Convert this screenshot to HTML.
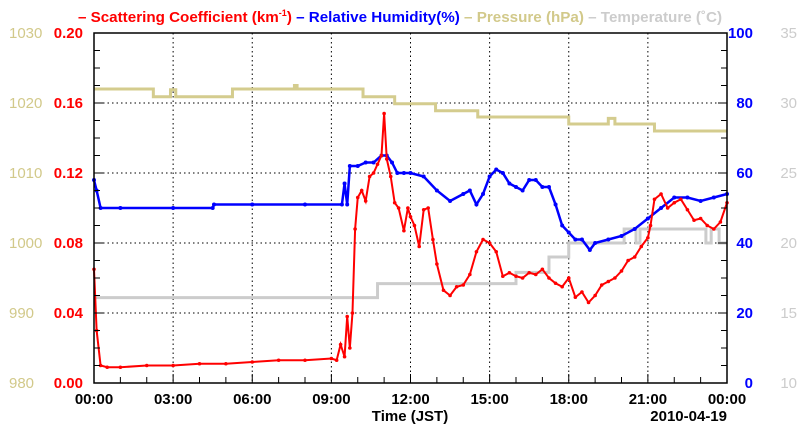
<!DOCTYPE html>
<html><head><meta charset="utf-8"><style>
body{margin:0;background:#fff;}
svg{display:block;font-family:"Liberation Sans",sans-serif;}
</style></head><body>
<svg id="chart" width="800" height="434" viewBox="0 0 800 434" xmlns="http://www.w3.org/2000/svg">
<text x="400" y="22" text-anchor="middle" font-size="15.2" font-weight="bold"><tspan fill="#ff0000">– Scattering Coefficient (km<tspan font-size="9" dy="-6">-1</tspan><tspan dy="6">) </tspan></tspan><tspan fill="#0000ff">– Relative Humidity(%) </tspan><tspan fill="#d2c98a">– Pressure (hPa) </tspan><tspan fill="#cccccc">– Temperature (˚C)</tspan></text>
<g id="grid"></g>
<g id="series"></g>
<g id="axes"></g>
<text x="410" y="421" text-anchor="middle" font-size="15" font-weight="bold">Time (JST)</text>
<text x="727" y="421" text-anchor="end" font-size="15" font-weight="bold">2010-04-19</text>
</svg>
<script>
const xTicks = ["00:00","03:00","06:00","09:00","12:00","15:00","18:00","21:00","00:00"];
const scatTicks = ["0.00","0.04","0.08","0.12","0.16","0.20"];
const rhTicks = ["0","20","40","60","80","100"];
const presTicks = ["980","990","1000","1010","1020","1030"];
const tempTicks = ["10","15","20","25","30","35"];

const scatT = [0,0.1,0.25,0.5,1,2,3,4,5,6,7,8,9,9.2,9.35,9.5,9.6,9.7,9.8,9.9,10,10.15,10.3,10.45,10.6,10.75,10.9,11,11.1,11.25,11.4,11.55,11.75,11.9,12,12.15,12.33,12.5,12.67,12.85,13,13.25,13.5,13.75,14,14.25,14.5,14.75,15,15.25,15.5,15.75,16,16.25,16.5,16.75,17,17.25,17.5,17.75,18,18.25,18.5,18.75,19,19.25,19.5,19.75,20,20.25,20.5,20.75,21,21.1,21.25,21.5,21.75,22,22.25,22.5,22.75,23,23.25,23.5,23.75,24];
const scatV = [0.065,0.03,0.01,0.009,0.009,0.01,0.01,0.011,0.011,0.012,0.013,0.013,0.014,0.013,0.022,0.015,0.038,0.02,0.04,0.088,0.106,0.11,0.104,0.118,0.12,0.125,0.13,0.154,0.128,0.118,0.103,0.1,0.087,0.1,0.095,0.09,0.078,0.099,0.1,0.082,0.068,0.053,0.05,0.055,0.056,0.062,0.075,0.082,0.08,0.075,0.061,0.063,0.061,0.06,0.063,0.062,0.065,0.06,0.057,0.055,0.06,0.049,0.052,0.046,0.05,0.056,0.058,0.06,0.064,0.07,0.072,0.078,0.083,0.09,0.105,0.108,0.1,0.103,0.105,0.099,0.093,0.094,0.09,0.088,0.092,0.103];
const rhT = [0,0.1,0.25,1,3,4.5,4.55,6,8,9.4,9.5,9.6,9.7,10,10.3,10.6,10.9,11.1,11.3,11.5,11.75,12,12.5,13,13.5,14,14.25,14.5,14.75,15,15.25,15.5,15.75,16,16.25,16.5,16.75,17,17.25,17.5,17.75,18,18.25,18.5,18.8,19,19.5,20,20.5,21,21.5,22,22.5,23,23.5,24];
const rhV = [58,55,50,50,50,50,51,51,51,51,57,51,62,62,63,63,65,65,63,60,60,60,59,55,52,54,55,51,54,59,61,60,57,56,55,58,58,56,56,51,45,43,41,41,38,40,41,42,44,47,50,53,53,52,53,54];
const presT = [0,2.25,2.9,3.1,5.25,7.6,7.7,10.2,11.4,12.95,14.55,18,19.5,19.75,21.25,24];
const presV = [1022,1020.9,1021.9,1020.9,1022,1022.5,1022,1020.9,1019.9,1018.9,1018,1017,1017.8,1017,1016,1016];
const tempT = [0,10.75,16,17.25,18,20.1,20.55,20.7,21,23.2,23.4,23.7,24];
const tempV = [16.1,17.1,17.9,19,20,21,20,21,21,20,21,20,20];

const L=94,R=727,T=33,B=383;
const NS="http://www.w3.org/2000/svg";
const xs=h=>L+(R-L)*h/24;
const yScat=v=>B-(B-T)*v/0.2;
const yRh=v=>B-(B-T)*v/100;
const yPres=v=>B-(B-T)*(v-980)/50;
const yTemp=v=>B-(B-T)*(v-10)/25;
function mk(tag,attrs,parent){const e=document.createElementNS(NS,tag);for(const k in attrs)e.setAttribute(k,attrs[k]);document.getElementById(parent).appendChild(e);return e;}
for(let i=1;i<8;i++){const g=mk('line',{x1:xs(i*3),x2:xs(i*3),y1:T,y2:B,stroke:'#000','stroke-dasharray':'1.5,3','stroke-width':1},'grid');

}
for(let i=1;i<5;i++){const g=mk('line',{x1:L,x2:R,y1:yScat(i*0.04),y2:yScat(i*0.04),stroke:'#000','stroke-dasharray':'1.5,3','stroke-width':1},'grid');

}
function pts(ts,vs,fy,step){let p=[];for(let i=0;i<ts.length;i++){if(step&&i>0)p.push(xs(ts[i])+','+fy(vs[i-1]));p.push(xs(ts[i])+','+fy(vs[i]));}return p.join(' ');}
const pl=mk('polyline',{points:pts(presT,presV,yPres,true),fill:'none',stroke:'#d4cc8e','stroke-width':3},'series');


const tl=mk('polyline',{points:pts(tempT,tempV,yTemp,true),fill:'none',stroke:'#cccccc','stroke-width':3},'series');


const rl=mk('polyline',{points:pts(rhT,rhV,yRh,false),fill:'none',stroke:'#0000ff','stroke-width':2.5},'series');


rhT.forEach((t,i)=>{const c=mk('circle',{cx:xs(t),cy:yRh(rhV[i]),r:2,fill:'#0000ff'},'series');

});
const sl=mk('polyline',{points:pts(scatT,scatV,yScat,false),fill:'none',stroke:'#ff0000','stroke-width':2},'series');


scatT.forEach((t,i)=>{const c=mk('circle',{cx:xs(t),cy:yScat(scatV[i]),r:1.8,fill:'#ff0000'},'series');

});
const fr=mk('rect',{x:L,y:T,width:R-L,height:B-T,fill:'none',stroke:'#000','stroke-width':1.5},'axes');


for(let h=0;h<=24;h++){const len=h%3===0?9:6;mk('line',{x1:xs(h),x2:xs(h),y1:B,y2:B-len,stroke:'#000','stroke-width':1},'axes');}
for(let k=0;k<=20;k++){const y=B-(B-T)*k/20;const len=k%4===0?9:6;mk('line',{x1:L,x2:L+len,y1:y,y2:y,stroke:'#000'},'axes');mk('line',{x1:R,x2:R-len,y1:y,y2:y,stroke:'#000'},'axes');}
function lab(x,y,txt,anchor,color,bold,name){const t=mk('text',{x:x,y:y,'text-anchor':anchor,fill:color,'font-size':15,'font-weight':bold?'bold':'normal'},'axes');t.textContent=txt;

}
xTicks.forEach((s,i)=>lab(xs(i*3),404,s,'middle','#000',true,'x-tick-label'));
scatTicks.forEach((s,i)=>lab(83,B-(B-T)*i/5+5,s,'end','#ff0000',true,'scattering-tick-label'));
presTicks.forEach((s,i)=>lab(9,B-(B-T)*i/5+5,s,'start','#d2c98a',false,'pressure-tick-label'));
rhTicks.forEach((s,i)=>lab(753,B-(B-T)*i/5+5,s,'end','#0000ff',true,'humidity-tick-label'));
tempTicks.forEach((s,i)=>lab(797,B-(B-T)*i/5+5,s,'end','#cccccc',false,'temperature-tick-label'));
</script>
</body></html>
